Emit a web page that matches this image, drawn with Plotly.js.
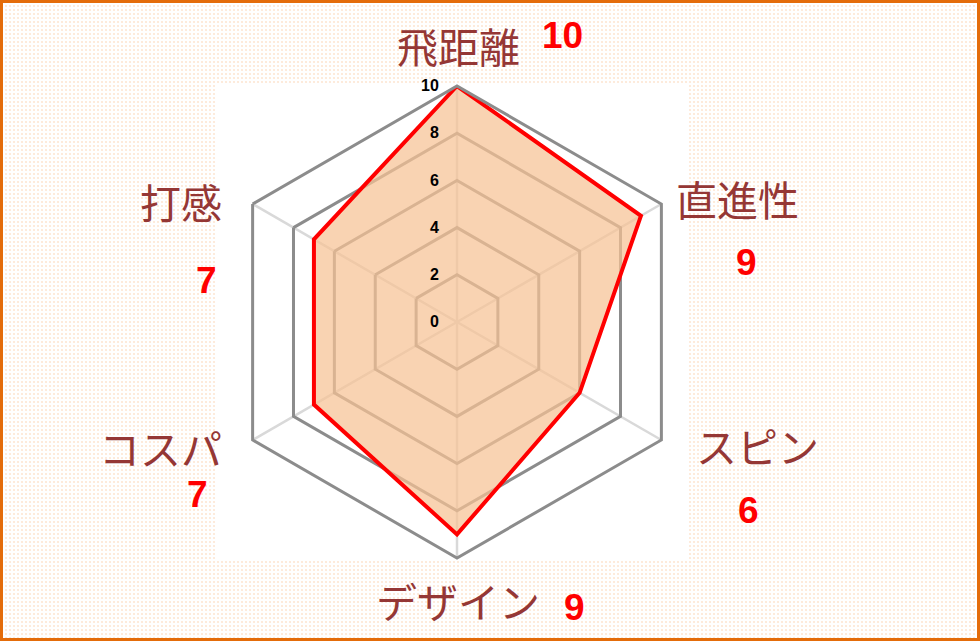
<!DOCTYPE html>
<html>
<head>
<meta charset="utf-8">
<script src="https://cdn.plot.ly/plotly-3.0.1.min.js"></script>
<style>
  html,body{margin:0;padding:0;}
  body{width:980px;height:641px;overflow:hidden;
    background-color:#fff;
    background-image:radial-gradient(circle,#fde4cf 0.6px,transparent 1px);
    background-size:4px 4px;}
  #chart{width:980px;height:641px;}
</style>
</head>
<body>
<div id="chart"></div>
<script>
// ── データ ──────────────────────────────────────────
const categories = ['飛距離','直進性','スピン','デザイン','コスパ','打感'];
const scores     = [10, 9, 6, 9, 7, 7];
const tickVals   = [0, 2, 4, 6, 8, 10];

// ラベル位置（px, 左上原点）: [名前x, 名前y, 値x, 値y]
const labelPos = [
  [458, 45, 562, 36],
  [737, 198, 746, 262],
  [757, 445, 748, 511],
  [458, 600, 574, 607],
  [160, 447, 197, 495],
  [181, 201, 206, 280],
];

const W = 980, H = 641;
const px = x => x / W, py = y => 1 - y / H;
const cx = 457, cy = 322, rad = 236;

const trace = {
  type:'scatterpolar', mode:'lines',
  r: scores.concat(scores[0]),
  theta: categories.concat(categories[0]),
  fill:'toself', fillcolor:'rgba(247,194,148,0.72)',
  line:{color:'#ff0000', width:4}, hoverinfo:'skip'
};

const annotations = [];
categories.forEach((c,i)=>{
  const p = labelPos[i];
  annotations.push({xref:'paper',yref:'paper',x:px(p[0]),y:py(p[1]),text:c,showarrow:false,
    xanchor:'center',yanchor:'middle',
    font:{family:'Noto Sans CJK JP, sans-serif',size:41,color:'#953735'}});
  annotations.push({xref:'paper',yref:'paper',x:px(p[2]),y:py(p[3]),text:String(scores[i]),showarrow:false,
    xanchor:'center',yanchor:'middle',
    font:{family:'Liberation Sans, Arial, sans-serif',size:37,color:'#ff0000',weight:'bold'}});
});

const layout = {
  width:W, height:H, margin:{l:0,r:0,t:0,b:0},
  paper_bgcolor:'rgba(0,0,0,0)', showlegend:false,
  shapes:[
    {type:'rect',xref:'paper',yref:'paper',layer:'below',
     x0:px(217),x1:px(689),y0:py(559),y1:py(84),fillcolor:'#ffffff',line:{width:0}},
    {type:'rect',xref:'paper',yref:'paper',
     x0:px(1.5),x1:px(W-1.5),y0:py(H-1.5),y1:py(1.5),line:{color:'#e46c0a',width:3}}
  ],
  polar:{
    domain:{x:[px(cx-rad),px(cx+rad)], y:[py(cy+rad),py(cy-rad)]},
    bgcolor:'rgba(0,0,0,0)', gridshape:'linear',
    radialaxis:{range:[0,10], tickvals:tickVals, angle:90, side:'counterclockwise', tickangle:90,
      showline:false, ticks:'outside', ticklen:12, tickcolor:'rgba(0,0,0,0)',
      gridcolor:'#8c8c8c', gridwidth:3,
      tickfont:{family:'Liberation Sans, Arial, sans-serif',size:16,color:'#000',weight:'bold'}},
    angularaxis:{rotation:90, direction:'clockwise', showticklabels:false, ticks:'',
      gridcolor:'#d9d9d9', gridwidth:2.5, showline:true, linecolor:'#8c8c8c', linewidth:3}
  },
  annotations
};

Plotly.newPlot('chart',[trace],layout,{displayModeBar:false,staticPlot:true});
</script>
</body>
</html>
